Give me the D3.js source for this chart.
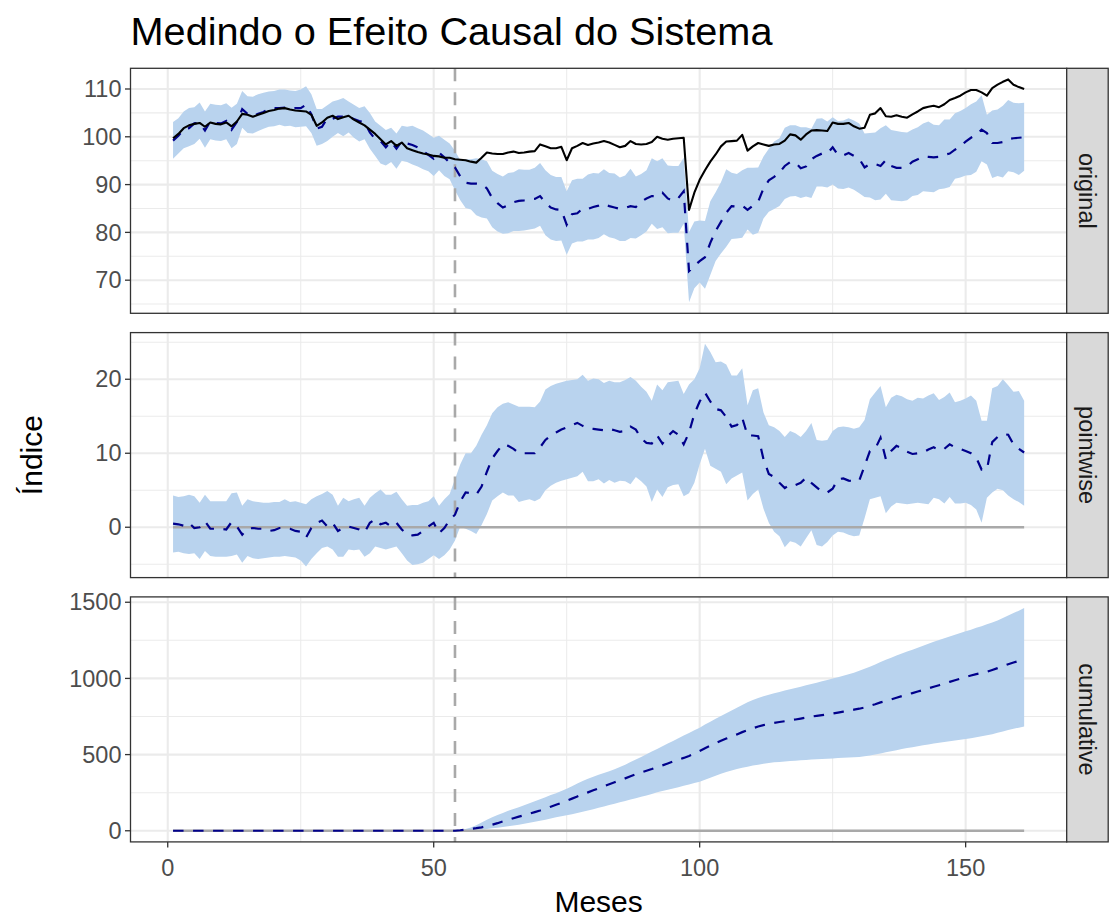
<!DOCTYPE html>
<html><head><meta charset="utf-8">
<script src="https://cdn.jsdelivr.net/npm/d3@7"></script>
<style>
body{margin:0;background:#fff;}
svg{display:block;font-family:"Liberation Sans",Arial,Helvetica,sans-serif;}
</style></head><body>
<svg id="chart" width="1109" height="917"></svg>
<script>
// ---------------- DATA ----------------
const months = d3.range(1, 162);           // 1..161
const interventionMonth = 54;

const observed = [
 99.7,100.6,101.8,102.4,102.7,102.9,102.1,103.0,102.7,102.6,
 103.0,102.2,103.2,104.8,104.6,104.2,104.6,105.0,105.4,105.6,
 105.9,106.0,105.7,105.5,105.4,105.3,104.6,102.3,103.0,104.0,
 104.4,103.7,104.1,104.4,103.6,103.0,102.4,101.5,100.6,99.5,
 98.4,99.1,98.1,98.8,97.6,97.2,96.8,96.5,96.3,96.0,
 95.9,95.6,95.6,95.3,95.2,95.1,94.8,94.6,95.6,96.7,
 96.5,96.4,96.4,96.7,96.9,96.6,96.7,96.9,97.0,98.4,
 98.0,97.6,97.6,97.9,95.1,97.6,98.1,98.7,98.3,98.6,
 98.8,99.1,98.8,98.3,97.8,98.1,99.1,98.5,98.4,98.5,
 98.9,100.0,99.6,99.4,99.6,99.7,99.8,84.7,88.3,91.0,
 93.0,94.8,96.3,98.0,99.0,99.1,99.2,100.4,97.1,98.0,
 98.7,98.4,98.1,98.4,98.5,99.2,100.5,100.3,99.4,100.5,
 101.3,101.4,101.3,101.2,103.0,102.7,102.7,102.9,102.2,101.7,
 101.9,104.6,104.9,106.0,104.3,104.2,104.5,104.2,104.0,104.7,
 105.3,106.0,106.3,106.5,106.2,106.8,107.7,108.1,108.6,109.3,
 109.8,109.8,109.3,108.6,110.2,110.9,111.5,112.0,110.9,110.4,110.0
];

const pointEffect = [
 0.5,0.4,0.2,0.6,-0.1,0.0,0.8,-0.2,-0.2,-0.2,
 -0.3,0.7,0.1,-1.0,-0.2,-0.1,-0.2,-0.2,-0.5,-0.4,
 -0.1,-0.1,-0.2,-0.5,-0.6,-1.4,-0.1,0.6,0.9,0.1,
 0.6,-0.5,-0.1,0.1,-0.1,-0.3,-0.7,0.6,1.1,0.4,
 0.6,0.1,0.6,-0.3,-1.0,-1.1,-1.0,-0.5,0.1,0.6,
 -0.8,-0.1,1.0,1.7,
 3.5,4.7,4.6,4.4,5.5,7.5,9.3,10.3,11.2,11.0,
 10.6,10.0,10.0,10.0,10.0,10.8,11.8,12.4,12.8,13.2,
 13.5,13.8,14.1,13.7,13.4,13.3,13.2,13.1,13.3,13.1,
 12.9,13.0,13.6,13.2,12.0,11.4,11.3,12.4,11.3,12.3,
 13.0,12.5,11.2,12.8,15.3,17.0,18.2,17.0,16.0,15.8,
 14.9,13.6,13.8,14.8,12.4,12.4,12.3,9.2,7.2,6.8,
 6.0,5.3,5.8,5.7,6.0,6.7,6.0,5.4,4.8,4.7,
 5.2,6.5,6.6,6.3,6.2,6.3,8.3,10.3,10.6,12.1,
 9.2,10.3,11.0,10.7,10.2,9.9,10.0,10.1,10.5,10.8,
 10.4,10.6,11.2,10.8,10.6,10.3,10.0,9.4,7.8,7.8,
 11.5,12.2,12.6,12.5,11.2,10.6,10.1
];

const pointLower = [
 -3.4,-3.3,-3.5,-3.6,-3.5,-4.3,-3.2,-3.9,-4.0,-4.0,
 -4.0,-3.9,-3.7,-4.8,-3.9,-4.2,-4.3,-4.2,-4.1,-4.0,
 -4.0,-3.9,-4.0,-4.1,-4.5,-5.3,-4.3,-3.5,-2.8,-2.6,
 -3.0,-4.0,-4.0,-3.0,-3.1,-3.0,-4.0,-3.5,-2.6,-2.8,
 -3.0,-2.8,-2.6,-3.5,-4.5,-5.1,-5.0,-4.8,-4.3,-3.8,
 -4.3,-3.8,-3.0,-1.8,
 0.1,-0.2,-0.5,-0.9,0.3,1.8,3.6,4.2,4.7,4.3,
 4.3,3.4,3.6,3.8,3.5,3.9,5.0,5.6,6.0,6.3,
 6.5,6.7,6.9,7.5,6.2,6.2,6.5,5.9,6.4,6.0,
 6.3,6.2,5.8,6.8,6.2,5.5,3.4,5.1,4.1,5.4,
 5.7,5.8,4.2,4.6,6.0,8.5,10.6,8.3,7.9,7.5,
 5.8,6.6,7.0,7.4,3.6,4.5,5.1,2.5,0.6,-0.6,
 -1.2,-2.7,-1.9,-2.1,-2.6,-1.5,-0.4,-2.4,-2.6,-2.0,
 -1.1,-0.6,-0.7,-1.0,-1.2,-1.1,1.2,3.8,4.0,4.2,
 1.9,2.8,3.3,3.2,3.1,3.2,3.3,3.2,3.1,4.0,
 3.8,3.2,4.1,3.2,3.2,3.3,3.0,2.4,0.6,4.0,
 4.7,5.2,5.0,4.3,3.8,3.4,2.9
];

const pointUpper = [
 4.3,4.1,4.2,4.4,4.2,3.3,4.4,3.5,3.5,3.5,
 3.5,4.6,4.7,2.9,3.8,3.5,3.4,3.3,3.3,3.4,
 3.4,3.8,3.4,3.5,3.3,3.1,3.8,4.2,4.5,4.9,
 4.4,2.9,4.0,3.5,3.8,4.0,2.9,4.0,4.6,5.1,
 4.4,4.4,4.8,3.8,2.9,3.0,3.0,3.3,3.5,4.2,
 2.9,3.8,4.5,6.5,
 8.5,10.0,10.0,11.0,12.5,13.8,15.4,16.2,16.7,16.9,
 16.6,16.3,16.3,16.3,16.2,17.0,18.6,19.1,19.4,19.6,
 19.8,19.9,20.0,20.6,19.8,20.1,20.0,19.5,19.8,19.6,
 19.6,19.9,20.3,19.8,19.0,18.3,17.1,19.3,18.5,19.6,
 19.7,19.8,18.0,19.3,20.0,21.5,24.8,23.7,22.3,22.4,
 22.0,20.5,20.5,21.5,16.5,18.5,18.8,15.5,13.8,13.5,
 13.0,12.2,13.0,12.7,12.2,13.0,14.1,11.8,11.7,11.8,
 13.0,13.5,13.6,13.5,13.3,13.5,14.5,17.3,18.2,19.1,
 16.2,17.5,17.9,17.7,17.3,17.1,17.5,17.4,17.8,18.1,
 17.2,17.6,18.2,16.9,17.1,17.4,17.8,17.1,14.4,14.4,
 18.8,19.1,20.0,19.2,18.3,18.4,17.1
];

// cumulative interval, post-period months 55..161
const cumLowerPost = [
 2,3,5,7,9,12,16,20,25,30,
 35,40,46,52,59,66,73,81,88,95,
 102,109,116,124,133,142,151,160,169,178,
 187,196,205,214,223,232,242,252,261,269,
 277,286,295,304,313,322,335,348,361,374,
 386,396,405,414,421,428,434,440,445,449,
 452,455,458,460,463,465,467,469,471,473,
 475,477,479,481,483,485,489,494,500,507,
 515,522,529,536,543,549,555,561,566,572,
 577,582,587,592,597,602,608,614,620,627,
 634,643,652,661,669,677,684
];
const cumUpperPost = [
 5,12,22,36,54,72,88,103,117,131,
 143,155,168,181,194,207,220,234,247,261,
 276,293,310,327,342,355,367,379,390,403,
 418,434,451,468,485,503,520,537,555,572,
 590,608,625,642,659,677,697,716,735,754,
 772,790,808,826,844,858,871,883,893,902,
 911,920,929,937,946,955,964,972,981,990,
 999,1008,1018,1028,1038,1050,1063,1077,1092,1107,
 1122,1136,1150,1163,1176,1189,1202,1215,1227,1240,
 1252,1264,1275,1287,1298,1309,1320,1332,1343,1355,
 1367,1380,1396,1413,1429,1445,1462
];

const xTicks = [0, 50, 100, 150];
const yTicksOriginal = [70, 80, 90, 100, 110];
const yTicksPointwise = [0, 10, 20];
const yTicksCumulative = [0, 500, 1000, 1500];
const panelLabels = ["original", "pointwise", "cumulative"];
const titleText = "Medindo o Efeito Causal do Sistema";
const xLabel = "Meses";
const yLabel = "Índice";

// ---------------- DERIVED SERIES ----------------
const predMean  = observed.map((o, i) => o - pointEffect[i]);
const predLower = observed.map((o, i) => o - pointUpper[i]);
const predUpper = observed.map((o, i) => o - pointLower[i]);
const nPre = months.filter(m => m <= interventionMonth).length;
let acc = 0;
const cumEffect = months.map((m, i) => m > interventionMonth ? (acc += pointEffect[i]) : 0);
const cumLower = months.map((m, i) => m > interventionMonth ? cumLowerPost[i - nPre] : 0);
const cumUpper = months.map((m, i) => m > interventionMonth ? cumUpperPost[i - nPre] : 0);

const panels = [
  {label: panelLabels[0], mean: predMean, lower: predLower, upper: predUpper, response: observed, baseline: false, ticks: yTicksOriginal},
  {label: panelLabels[1], mean: pointEffect, lower: pointLower, upper: pointUpper, response: null, baseline: true, ticks: yTicksPointwise},
  {label: panelLabels[2], mean: cumEffect, lower: cumLower, upper: cumUpper, response: null, baseline: true, ticks: yTicksCumulative}
];

// ---------------- LAYOUT ----------------
const svg = d3.select("#chart");
const W = 1109, H = 917;
const plotLeft = 130.5, plotRight = 1066.7;
const panelTop0 = 68.3, panelStep = 264.3, panelH = 245;
const stripW = 41.5;

const expand = (ext, f = 0.05) => { const d = ext[1] - ext[0]; return [ext[0] - d * f, ext[1] + d * f]; };

const x = d3.scaleLinear().domain(expand(d3.extent(months))).range([plotLeft, plotRight]);

const majorGrid = "#ebebeb";
const bandFill = "#B9D3EE";
const darkGrey = "#A9A9A9";
const meanColor = "#00008B";

svg.append("rect").attr("width", W).attr("height", H).attr("fill", "#fff");

// title
svg.append("text").attr("x", plotLeft).attr("y", 45)
  .attr("font-size", 39.7).attr("fill", "#000").text(titleText);

const minorOf = (ticks, dom) => {
  const step = ticks[1] - ticks[0];
  const arr = ticks.map(t => t - step / 2).concat([ticks[ticks.length - 1] + step / 2]);
  return arr.filter(v => v >= Math.min(...dom) && v <= Math.max(...dom));
};
const xMinor = minorOf(xTicks, x.domain());

panels.forEach((p, pi) => {
  const top = panelTop0 + pi * panelStep;
  const bottom = top + panelH;
  const vals = [].concat(p.lower, p.upper, p.mean, p.response || [], p.baseline ? [0] : []);
  const y = d3.scaleLinear().domain(expand(d3.extent(vals))).range([bottom, top]);
  const g = svg.append("g");

  // background
  g.append("rect").attr("x", plotLeft).attr("y", top).attr("width", plotRight - plotLeft).attr("height", panelH).attr("fill", "#fff");

  // grid minor
  const yMinor = minorOf(p.ticks, y.domain());
  g.selectAll(".ymin").data(yMinor).join("line")
    .attr("x1", plotLeft).attr("x2", plotRight).attr("y1", d => y(d)).attr("y2", d => y(d))
    .attr("stroke", majorGrid).attr("stroke-width", 1.05);
  g.selectAll(".xmin").data(xMinor).join("line")
    .attr("y1", top).attr("y2", bottom).attr("x1", d => x(d)).attr("x2", d => x(d))
    .attr("stroke", majorGrid).attr("stroke-width", 1.05);
  // grid major
  g.selectAll(".ymaj").data(p.ticks).join("line")
    .attr("x1", plotLeft).attr("x2", plotRight).attr("y1", d => y(d)).attr("y2", d => y(d))
    .attr("stroke", majorGrid).attr("stroke-width", 2.1);
  g.selectAll(".xmaj").data(xTicks).join("line")
    .attr("y1", top).attr("y2", bottom).attr("x1", d => x(d)).attr("x2", d => x(d))
    .attr("stroke", majorGrid).attr("stroke-width", 2.1);

  // band
  const area = d3.area().x((d, i) => x(months[i])).y0((d, i) => y(p.lower[i])).y1((d, i) => y(p.upper[i]));
  g.append("path").datum(months).attr("d", area).attr("fill", bandFill);

  // baseline
  if (p.baseline) {
    const bl = d3.line().x(d => x(d)).y(() => y(0));
    g.append("path").datum(months).attr("d", bl).attr("fill", "none")
      .attr("stroke", darkGrey).attr("stroke-width", 2.6);
  }

  // intervention line
  g.append("line").attr("x1", x(interventionMonth)).attr("x2", x(interventionMonth))
    .attr("y1", top).attr("y2", bottom)
    .attr("stroke", darkGrey).attr("stroke-width", 2.6).attr("stroke-dasharray", "13,11");

  // mean dashed
  const ml = d3.line().x((d, i) => x(months[i])).y(d => y(d));
  g.append("path").datum(p.mean).attr("d", ml).attr("fill", "none")
    .attr("stroke", meanColor).attr("stroke-width", 2.2).attr("stroke-dasharray", "10.5,9.5");

  // response
  if (p.response) {
    g.append("path").datum(p.response).attr("d", ml).attr("fill", "none")
      .attr("stroke", "#000").attr("stroke-width", 2.1).attr("stroke-linejoin", "round");
  }

  // border
  g.append("rect").attr("x", plotLeft).attr("y", top).attr("width", plotRight - plotLeft).attr("height", panelH)
    .attr("fill", "none").attr("stroke", "#333333").attr("stroke-width", 1.3);

  // strip
  g.append("rect").attr("x", plotRight).attr("y", top).attr("width", stripW).attr("height", panelH)
    .attr("fill", "#d9d9d9").attr("stroke", "#333333").attr("stroke-width", 1.3);
  g.append("text").attr("transform", `translate(${plotRight + stripW / 2},${top + panelH / 2}) rotate(90)`)
    .attr("text-anchor", "middle").attr("dy", "0.35em").attr("font-size", 23.5).attr("fill", "#1a1a1a")
    .text(p.label);

  // y axis ticks + labels
  g.selectAll(".ytick").data(p.ticks).join("line")
    .attr("x1", plotLeft - 5.5).attr("x2", plotLeft).attr("y1", d => y(d)).attr("y2", d => y(d))
    .attr("stroke", "#333333").attr("stroke-width", 1.3);
  g.selectAll(".ylab").data(p.ticks).join("text")
    .attr("x", plotLeft - 9).attr("y", d => y(d)).attr("dy", "0.35em")
    .attr("text-anchor", "end").attr("font-size", 23.5).attr("fill", "#4d4d4d")
    .text(d => d);

  // x axis on last panel
  if (pi === panels.length - 1) {
    g.selectAll(".xtick").data(xTicks).join("line")
      .attr("x1", d => x(d)).attr("x2", d => x(d)).attr("y1", bottom).attr("y2", bottom + 5.5)
      .attr("stroke", "#333333").attr("stroke-width", 1.3);
    g.selectAll(".xlab").data(xTicks).join("text")
      .attr("x", d => x(d)).attr("y", bottom + 34)
      .attr("text-anchor", "middle").attr("font-size", 23.5).attr("fill", "#4d4d4d")
      .text(d => d);
  }
});

// axis titles
svg.append("text").attr("x", (plotLeft + plotRight) / 2).attr("y", 912)
  .attr("text-anchor", "middle").attr("font-size", 30).attr("fill", "#000").text(xLabel);
const yMid = (panelTop0 + panelTop0 + 2 * panelStep + panelH) / 2;
svg.append("text").attr("transform", `translate(42,${yMid}) rotate(-90)`)
  .attr("text-anchor", "middle").attr("font-size", 30).attr("fill", "#000").text(yLabel);
</script>
</body></html>
